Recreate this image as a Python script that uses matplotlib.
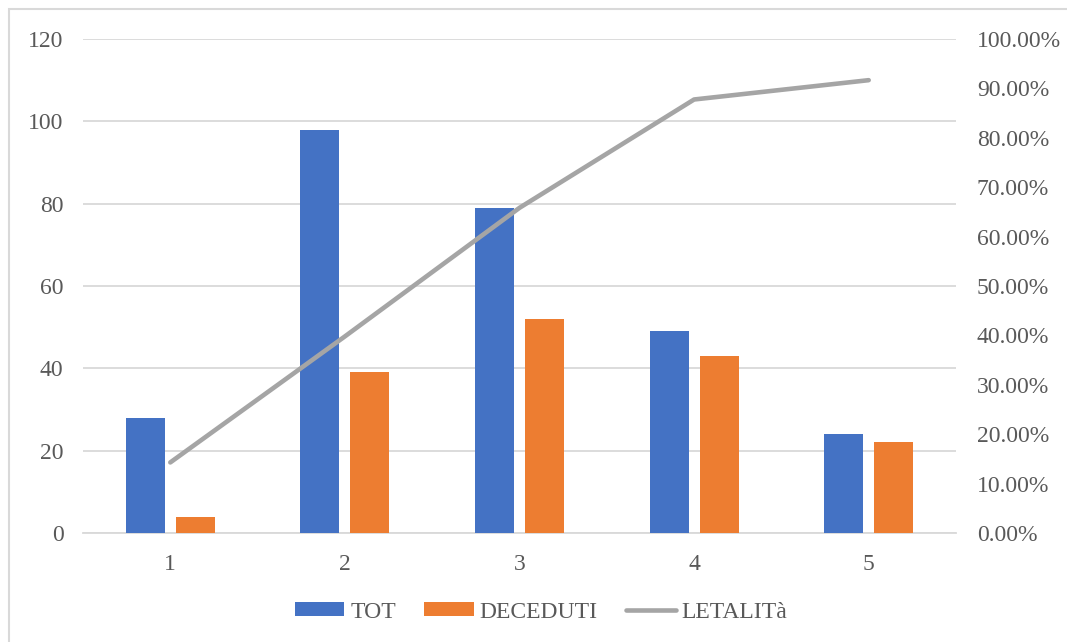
import matplotlib
matplotlib.use("Agg")
import matplotlib.pyplot as plt
from matplotlib.patches import Rectangle
from matplotlib.ticker import FuncFormatter
import numpy as np

categories = ["1", "2", "3", "4", "5"]
tot = [28, 98, 79, 49, 24]
deceduti = [4, 39, 52, 43, 22]
letalita = [d / t for d, t in zip(deceduti, tot)]

BLUE = "#4472C4"
ORANGE = "#ED7D31"
GRAY = "#A5A5A5"
GRID = "#D9D9D9"
TXT = "#595959"
FS = 17

plt.rcParams["font.family"] = ["Liberation Serif", "DejaVu Serif"]

W, H = 1067, 642
fig = plt.figure(figsize=(W / 100, H / 100), dpi=100)
ax = fig.add_axes([83 / W, 1 - 533 / H, (956 - 83) / W, (533 - 39) / H])
ax2 = ax.twinx()

x = np.arange(len(categories))
bw = 0.223
off = 0.143
b1 = ax.bar(x - off, tot, bw, color=BLUE, label="TOT", zorder=3)
b2 = ax.bar(x + off, deceduti, bw, color=ORANGE, label="DECEDUTI", zorder=3)
ln, = ax2.plot(x, letalita, color=GRAY, lw=3.3, solid_capstyle="round",
               solid_joinstyle="round", label="LETALITà", zorder=4)

ax.set_xlim(-0.5, len(categories) - 0.5)
ax.set_ylim(0, 120)
ax.set_yticks(np.arange(0, 121, 20))
ax2.set_ylim(0, 1.0)
ax2.set_yticks(np.arange(0, 1.01, 0.1))
ax2.yaxis.set_major_formatter(FuncFormatter(lambda v, p: f"{v * 100:.2f}%"))

ax.set_xticks(x)
ax.set_xticklabels(categories)
ax.grid(axis="y", color=GRID, lw=1.3, zorder=0)
ax.set_axisbelow(True)

for a in (ax, ax2):
    for s in a.spines.values():
        s.set_visible(False)
ax.spines["bottom"].set_visible(True)
ax.spines["bottom"].set_color(GRID)
ax.spines["bottom"].set_linewidth(1.3)

ax.tick_params(axis="y", length=0, pad=14, labelsize=FS, labelcolor=TXT)
ax.tick_params(axis="x", length=0, pad=15, labelsize=FS, labelcolor=TXT)
ax2.tick_params(axis="y", length=0, pad=15, labelsize=FS, labelcolor=TXT)
ax2.set_zorder(ax.get_zorder() + 1)
ax2.patch.set_visible(False)

leg = fig.legend([b1, b2, ln], ["TOT", "DECEDUTI", "LETALITà"],
                 loc="center", bbox_to_anchor=(541 / W, 1 - 612 / H), ncol=3,
                 frameon=False, fontsize=FS, handlelength=2.1,
                 handleheight=0.5, handletextpad=0.25, columnspacing=1.2)
for t in leg.get_texts():
    t.set_color(TXT)

# outer chart border (left and top edges)
fig.patches.append(Rectangle((9 / W, -0.1), 1.2, 1 - 9 / H + 0.1,
                             transform=fig.transFigure, fill=False,
                             edgecolor=GRID, lw=1.5))

fig.savefig("out.png", dpi=100)
